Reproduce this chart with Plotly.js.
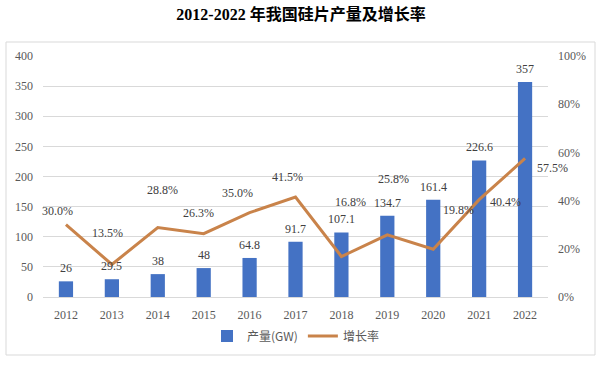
<!DOCTYPE html>
<html>
<head>
<meta charset="utf-8">
<script src="https://cdn.plot.ly/plotly-3.0.1.min.js"></script>
<style>html,body{margin:0;padding:0;background:#fff;}#chart{width:602px;height:380px;}</style>
</head>
<body>
<div id="chart"></div>
<script>
const years = ['2012','2013','2014','2015','2016','2017','2018','2019','2020','2021','2022'];
const output = [26, 29.5, 38, 48, 64.8, 91.7, 107.1, 134.7, 161.4, 226.6, 357];
const outputLabels = ['26','29.5','38','48','64.8','91.7','107.1','134.7','161.4','226.6','357'];
const growth = [0.300, 0.135, 0.288, 0.263, 0.350, 0.415, 0.168, 0.258, 0.198, 0.404, 0.575];
const growthLabels = ['30.0%','13.5%','28.8%','26.3%','35.0%','41.5%','16.8%','25.8%','19.8%','40.4%','57.5%'];
// label offsets (px) for the growth-rate labels
const gxShift = [-8, -4, 5, -5, -12, -8, 9, 6, 25, 26, 27];
const gyShift = [14, 31, 38, 21, 20, 20, 55, 56, 39, -2, -10];

const serif = 'Liberation Serif, Times New Roman, Noto Sans CJK SC, serif';
const cjk = 'Noto Sans CJK SC, Noto Sans, sans-serif';

const traces = [
  {type:'bar', name:'产量(GW)', x:years, y:output, marker:{color:'#4472C4'}, yaxis:'y', hoverinfo:'none'},
  {type:'scatter', mode:'lines', name:'增长率', x:years, y:growth, yaxis:'y2',
   line:{color:'#C9834A', width:3}, hoverinfo:'none'}
];

const annotations = [];
years.forEach((yr,i)=>{
  // on a category axis, annotation x is the category index
  annotations.push({x:i, y:output[i], xref:'x', yref:'y', text:outputLabels[i], showarrow:false,
    yanchor:'bottom', yshift:4, font:{family:serif, size:12, color:'#404040'}});
  annotations.push({x:i, y:growth[i], xref:'x', yref:'y2', text:growthLabels[i], showarrow:false,
    yanchor:'middle', xanchor:'center', xshift:gxShift[i], yshift:gyShift[i],
    font:{family:serif, size:12, color:'#404040'}});
});

const layout = {
  width:602, height:380,
  margin:{l:43, r:54, t:56, b:83, pad:0},
  paper_bgcolor:'#fff', plot_bgcolor:'#fff',
  title:{text:'<b>2012-2022 年我国硅片产量及增长率</b>', x:0.5, xref:'container', xanchor:'center',
    y:1-14/380, yref:'container', yanchor:'middle',
    font:{family:'Liberation Serif, Noto Sans CJK SC, serif', size:16, color:'#000'}},
  bargap:0.69,
  showlegend:true,
  legend:{orientation:'h', x:0.5, xanchor:'center', y:-0.162, yanchor:'middle',
    font:{family:cjk, size:12, color:'#595959'}, traceorder:'normal'},
  xaxis:{type:'category', range:[-0.5, years.length-0.5], showgrid:false, showline:true, linecolor:'#d9d9d9', linewidth:1,
    ticks:'', ticklabelstandoff:7, tickfont:{family:serif, size:12, color:'#595959'}, zeroline:false, fixedrange:true},
  yaxis:{range:[0,400], dtick:50, showgrid:true, gridcolor:'#d9d9d9', gridwidth:1, zeroline:false,
    showline:false, ticks:'', ticklabelstandoff:9, tickfont:{family:serif, size:12, color:'#595959'}, fixedrange:true},
  yaxis2:{range:[0,1], dtick:0.2, tickformat:'.0%', overlaying:'y', side:'right', showgrid:false,
    zeroline:false, showline:false, ticks:'', ticklabelstandoff:9, tickfont:{family:serif, size:12, color:'#595959'}, fixedrange:true},
  annotations:annotations,
  shapes:[{type:'rect', xref:'paper', yref:'paper', x0:(6-43)/505, x1:(595-43)/505, y0:(297-355)/241, y1:(297-42)/241,
    line:{color:'#d9d9d9', width:1}, fillcolor:'rgba(0,0,0,0)', layer:'below'}]
};

Plotly.newPlot('chart', traces, layout, {displayModeBar:false, staticPlot:true});
</script>
</body>
</html>
